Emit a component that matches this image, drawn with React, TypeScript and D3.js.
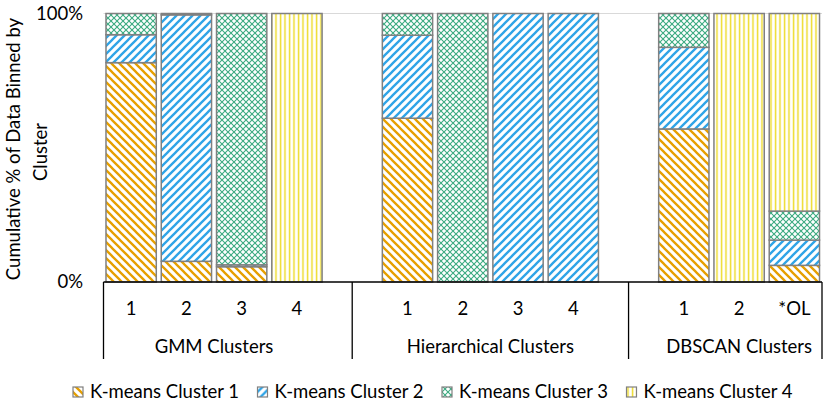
import * as React from "react";
import * as d3 from "d3";

// slots of the category axis (blank slots give the gaps between groups)
const slotKeys = ["g1", "g2", "g3", "g4", "gap1", "h1", "h2", "h3", "h4", "gap2", "d1", "d2", "dOL"];
const slotLabels = ["1", "2", "3", "4", "", "1", "2", "3", "4", "", "1", "2", "*OL"];
const groupNames = ["GMM Clusters", "Hierarchical Clusters", "DBSCAN Clusters"];
const groupSlots = [["g1", "g2", "g3", "g4"], ["h1", "h2", "h3", "h4"], ["d1", "d2", "dOL"]];

const seriesNames = ["K-means Cluster 1", "K-means Cluster 2", "K-means Cluster 3", "K-means Cluster 4"];
// percent of each bar, same order as slotKeys
const cluster1 = [81.7, 7.7, 5.7, 0, 0, 61.0, 0, 0, 0, 0, 57.0, 0, 6.2];
const cluster2 = [10.4, 91.8, 0.7, 0, 0, 30.9, 0, 100, 100, 0, 30.4, 0, 9.4];
const cluster3 = [7.9, 0.5, 93.6, 0, 0, 8.1, 100, 0, 0, 0, 12.6, 0, 10.8];
const cluster4 = [0, 0, 0, 100, 0, 0, 0, 0, 0, 0, 0, 100, 73.6];
const yTicks = [0, 100];

const patternIds = ["pOrange", "pBlue", "pGreen", "pYellow"];
const FONT = "Lato, 'Noto Sans', sans-serif";
const FS = 18.5;

export default function App() {
  const W = 829, H = 403;
  const left = 103.5, right = 822, top = 13.5, bottom = 282;

  const x = d3.scaleBand<string>().domain(slotKeys).range([left, right]).paddingInner(0.09).paddingOuter(0.045);
  const y = d3.scaleLinear().domain([0, 100]).range([bottom, top]);

  const rows = slotKeys.map((k, i) => ({
    key: k,
    c1: cluster1[i], c2: cluster2[i], c3: cluster3[i], c4: cluster4[i],
  }));
  const stacked = d3.stack<any>().keys(["c1", "c2", "c3", "c4"])(rows);

  const centre = (k: string) => (x(k) as number) + x.bandwidth() / 2;
  const separators = [left, centre("gap1"), centre("gap2"), right];

  return (
    <svg width={W} height={H} style={{ position: "absolute", left: 0, top: 0, background: "#fff" }}
      fontFamily={FONT}>
      <defs>
        <pattern id="pOrange" patternUnits="userSpaceOnUse" width="8" height="8">
          <rect width="8" height="8" fill="#fff" />
          <path d="M-2,-2 L10,10 M-2,6 L2,10 M6,-2 L10,2" stroke="#E69F00" strokeWidth="2.3" />
        </pattern>
        <pattern id="pBlue" patternUnits="userSpaceOnUse" width="8" height="8">
          <rect width="8" height="8" fill="#fff" />
          <path d="M-2,10 L10,-2 M-2,2 L2,-2 M6,10 L10,6" stroke="#2FA4E7" strokeWidth="2.3" />
        </pattern>
        <pattern id="pGreen" patternUnits="userSpaceOnUse" width="6" height="6">
          <rect width="6" height="6" fill="#fff" />
          <path d="M0,0 L6,6 M6,0 L0,6" stroke="#3AAA80" strokeWidth="1.1" />
        </pattern>
        <pattern id="pYellow" patternUnits="userSpaceOnUse" width="4.5" height="4">
          <rect width="4.5" height="4" fill="#fff" />
          <line x1="1.5" y1="0" x2="1.5" y2="4" stroke="#EEDC2A" strokeWidth="1.5" />
        </pattern>
      </defs>

      {/* gridline at 100% */}
      <line x1={left} x2={right} y1={y(100)} y2={y(100)} stroke="#d9d9d9" strokeWidth={1} />

      {/* y tick labels */}
      {yTicks.map((t) => (
        <text key={t} x={83} y={y(t)} dy="0.35em" textAnchor="end" fontSize={FS} fill="#000">
          {t + "%"}
        </text>
      ))}

      {/* y title */}
      <text transform={`translate(14,149) rotate(-90)`} textAnchor="middle" dy="0.35em" fontSize={FS}>
        Cumulative % of Data Binned by
      </text>
      <text transform={`translate(41,152) rotate(-90)`} textAnchor="middle" dy="0.35em" fontSize={FS}>
        Cluster
      </text>

      {/* bars */}
      {stacked.map((s, si) => (
        <g key={si}>
          {s.map((d, i) =>
            d[1] - d[0] > 0 ? (
              <rect key={i} x={x(slotKeys[i])} width={x.bandwidth()} y={y(d[1])} height={y(d[0]) - y(d[1])}
                fill={`url(#${patternIds[si]})`} stroke="#808080" strokeWidth={1.5} />
            ) : null
          )}
        </g>
      ))}

      {/* category axis */}
      <line x1={left} x2={right} y1={bottom} y2={bottom} stroke="#000" strokeWidth={1.3} />
      {separators.map((sx, i) => (
        <line key={i} x1={sx} x2={sx} y1={bottom} y2={359} stroke="#000" strokeWidth={1.3} />
      ))}
      {slotKeys.map((k, i) => (
        <text key={k} x={centre(k)} y={309} dy="0.35em" textAnchor="middle" fontSize={FS}>
          {slotLabels[i]}
        </text>
      ))}
      {groupNames.map((g, gi) => {
        const ks = groupSlots[gi];
        let cx = (centre(ks[0]) + centre(ks[ks.length - 1])) / 2;
        const half = g.length * 4.5;
        if (cx + half > right - 6) cx = right - 6 - half;
        return (
          <text key={g} x={cx} y={347} dy="0.35em" textAnchor="middle" fontSize={FS}>
            {g}
          </text>
        );
      })}

      {/* legend */}
      {seriesNames.map((n, i) => {
        const lx = 73 + i * 184.5;
        return (
          <g key={n} transform={`translate(${lx},392)`}>
            <rect x={0} y={-5} width={10} height={10} fill={`url(#${patternIds[i]})`} stroke="#808080" strokeWidth={1.2} />
            <text x={17} y={0} dy="0.35em" fontSize={FS}>{n}</text>
          </g>
        );
      })}
    </svg>
  );
}
